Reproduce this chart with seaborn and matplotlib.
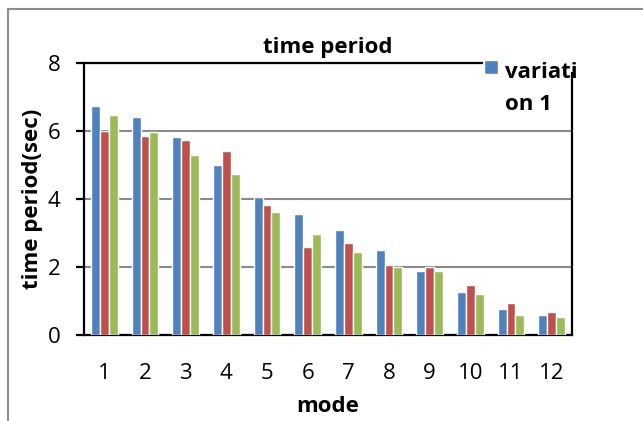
import matplotlib
matplotlib.use("Agg")
import matplotlib.pyplot as plt
from matplotlib.lines import Line2D
from matplotlib.patches import Rectangle, Patch
from matplotlib.legend_handler import HandlerPatch
import seaborn as sns
import pandas as pd

# Periods (sec) per mode for the three model variations
modes = [str(m) for m in range(1, 13)]
variation_1 = [6.73, 6.42, 5.82, 5.00, 4.07, 3.57, 3.09, 2.49, 1.88, 1.27, 0.77, 0.58]
variation_2 = [6.00, 5.85, 5.75, 5.40, 3.81, 2.58, 2.71, 2.07, 1.99, 1.47, 0.93, 0.69]
variation_3 = [6.48, 5.98, 5.28, 4.74, 3.63, 2.98, 2.43, 1.99, 1.88, 1.22, 0.58, 0.53]
series_names = ["variation 1", "variation 2", "variation 3"]
y_ticks = [0, 2, 4, 6, 8]

colors = ["#4F81BD", "#C0504D", "#9BBB59"]

df = pd.DataFrame({
    "mode": modes * 3,
    "period": variation_1 + variation_2 + variation_3,
    "series": [s for s in series_names for _ in modes],
})

sns.set_theme(style="white")
plt.rcParams["font.family"] = ["Open Sans", "DejaVu Sans"]

W, H = 643, 421
fig = plt.figure(figsize=(W / 100, H / 100), dpi=100)
ax = fig.add_axes([84 / W, 1 - 335 / H, (572 - 84) / W, (335 - 63) / H])

sns.barplot(data=df, x="mode", y="period", hue="series", order=modes,
            hue_order=series_names, palette=colors, width=0.66,
            saturation=1, legend=False, ax=ax, zorder=3)

ax.set_ylim(0, 8)
ax.set_yticks(y_ticks)
ax.set_xlim(-0.5, len(modes) - 0.5)
ax.yaxis.grid(True, color="#8a8a8a", linewidth=1.5, zorder=0)
ax.set_axisbelow(True)
for sp in ax.spines.values():
    sp.set_visible(True)
    sp.set_color("black")
    sp.set_linewidth(1.6)

ax.tick_params(axis="y", which="major", length=6, width=1.6, color="black",
               direction="out", left=True, pad=11, labelsize=16)
ax.tick_params(axis="x", which="major", length=0, pad=20, labelsize=16)
for lab in ax.get_xticklabels() + ax.get_yticklabels():
    lab.set_color("black")

ax.set_title("time period", fontsize=16, fontweight="bold", color="black", pad=7)
ax.set_xlabel("mode", fontsize=16, fontweight="bold", color="black")
ax.set_ylabel("time period(sec)", fontsize=16, fontweight="bold", color="black")
ax.xaxis.set_label_coords(0.5, -0.225)
ax.yaxis.set_label_coords(-0.084, 0.5)

# White box under the legend hides the corner of the frame
fig.patches.append(Rectangle((483 / W, 1 - 72 / H), 95 / W, 16 / H,
                             transform=fig.transFigure, facecolor="white",
                             edgecolor="none", zorder=5))


def wrap(label, n=7):
    return "\n".join(label[i:i + n] for i in range(0, len(label), n))


def top_square(legend, orig_handle, xdescent, ydescent, width, height, fontsize):
    # square marker level with the first line of a wrapped label
    side = 0.6 * fontsize
    return Rectangle((-xdescent, 1.62 * fontsize - side), 0.63 * fontsize, side)


leg = fig.legend([Patch(facecolor=colors[0])], [wrap(series_names[0])],
                 loc="upper left", bbox_to_anchor=(484 / W, 1 - 62 / H),
                 frameon=False, handlelength=0.63, handleheight=0.7,
                 handletextpad=0.3, borderpad=0.0, borderaxespad=0.0,
                 handler_map={Patch: HandlerPatch(patch_func=top_square)},
                 prop={"size": 16, "weight": "bold"})
leg.set_zorder(6)
for t in leg.get_texts():
    t.set_color("black")
    t.set_linespacing(1.67)

# Chart-area border along the left and top edges
fig.lines.append(Line2D([8 / W, 8 / W, 1.0], [0.0, 1 - 9 / H, 1 - 9 / H],
                        transform=fig.transFigure, color="#8c8c8c", linewidth=1.5))

fig.savefig("out.png", dpi=100)
